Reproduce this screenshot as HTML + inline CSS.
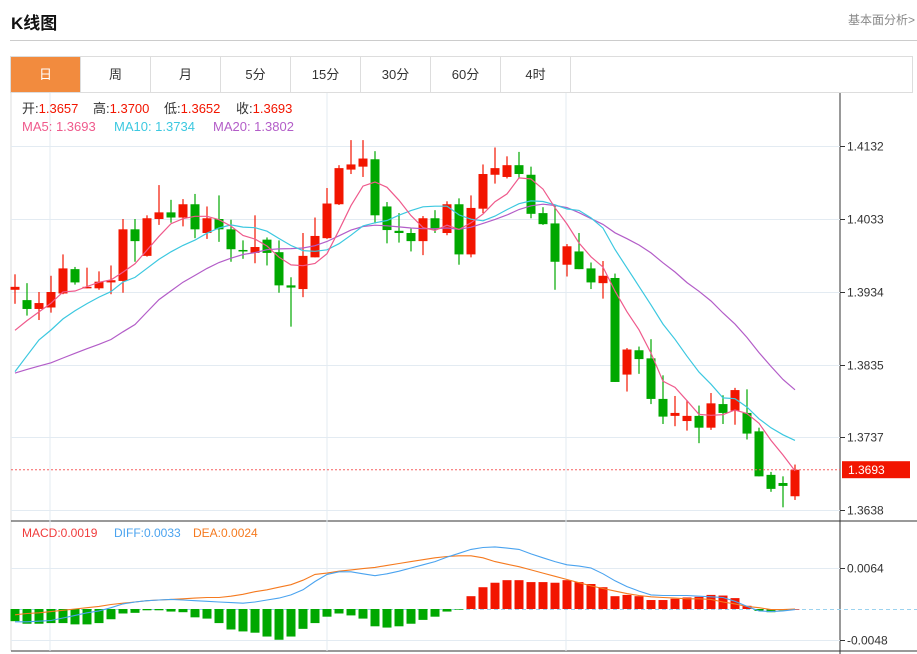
<!DOCTYPE html>
<html><head><meta charset="utf-8">
<style>
body{margin:0;width:917px;height:654px;background:#fff;font-family:"Liberation Sans","Noto Sans CJK SC",sans-serif;overflow:hidden;position:relative}
#title{position:absolute;left:11px;top:9px;font-size:17px;font-weight:bold;color:#111}
#fund{position:absolute;right:2px;top:11px;font-size:12px;color:#888}
#hr{position:absolute;left:10px;right:0;top:40px;border-top:1px solid #ccc}
#tabs{position:absolute;left:10px;top:56px;width:901px;height:35px;border:1px solid #ddd;display:flex}
.tab{width:69px;border-right:1px solid #ddd;text-align:center;line-height:35px;font-size:13px;color:#333}
.tab.on{background:#f28b3e;color:#fff}
svg{position:absolute;left:0;top:0}
</style></head><body>
<div id="title">K线图</div>
<div id="fund">基本面分析&gt;</div>
<div id="hr"></div>
<div id="tabs">
<div class="tab on">日</div>
<div class="tab">周</div>
<div class="tab">月</div>
<div class="tab">5分</div>
<div class="tab">15分</div>
<div class="tab">30分</div>
<div class="tab">60分</div>
<div class="tab">4时</div>
</div>
<svg id="chart" width="917" height="654"></svg>
<script>
const opens=[1.3937,1.3923,1.3911,1.3913,1.3932,1.3965,1.3939,1.3939,1.3947,1.3949,1.4019,1.3983,1.4033,1.4042,1.4035,1.4053,1.4014,1.4033,1.4019,1.3991,1.3987,1.4005,1.3988,1.3943,1.3938,1.3981,1.4007,1.4053,1.4100,1.4104,1.4114,1.4050,1.4017,1.4014,1.4003,1.4034,1.4014,1.4053,1.3985,1.4047,1.4093,1.4090,1.4106,1.4093,1.4041,1.4027,1.3971,1.3989,1.3966,1.3946,1.3953,1.3822,1.3855,1.3844,1.3789,1.3766,1.3759,1.3766,1.3750,1.3782,1.3773,1.3770,1.3745,1.3686,1.3675,1.3657];
const highs=[1.3958,1.3946,1.3934,1.3956,1.3985,1.3968,1.3967,1.3962,1.3970,1.4033,1.4033,1.4038,1.4079,1.4059,1.4060,1.4067,1.4050,1.4065,1.4032,1.4004,1.4038,1.4008,1.4004,1.3954,1.4014,1.4035,1.4075,1.4106,1.4140,1.4140,1.4125,1.4056,1.4041,1.4020,1.4037,1.4045,1.4057,1.4061,1.4065,1.4107,1.4130,1.4118,1.4124,1.4104,1.4049,1.4052,1.3999,1.4014,1.3974,1.3976,1.3959,1.3858,1.3860,1.3870,1.3821,1.3793,1.3787,1.3780,1.3797,1.3794,1.3804,1.3802,1.3750,1.3690,1.3684,1.3700];
const lows=[1.3918,1.3902,1.3896,1.3906,1.3931,1.3944,1.3939,1.3937,1.3931,1.3933,1.3975,1.3982,1.4025,1.4028,1.4023,1.4007,1.4006,1.4002,1.3975,1.3979,1.3973,1.3970,1.3933,1.3887,1.3927,1.3981,1.4006,1.4052,1.4094,1.4090,1.4027,1.4000,1.4001,1.3989,1.3984,1.4014,1.4011,1.3971,1.3981,1.4041,1.4081,1.4088,1.4088,1.4034,1.4025,1.3937,1.3955,1.3965,1.3938,1.3925,1.3812,1.3799,1.3823,1.3782,1.3755,1.3752,1.3746,1.3729,1.3747,1.3755,1.3754,1.3734,1.3684,1.3663,1.3642,1.3652];
const closes=[1.3941,1.3911,1.3919,1.3934,1.3966,1.3947,1.3941,1.3948,1.3950,1.4019,1.4003,1.4034,1.4042,1.4035,1.4053,1.4019,1.4034,1.4019,1.3992,1.3989,1.3995,1.3987,1.3943,1.3940,1.3983,1.4010,1.4054,1.4102,1.4107,1.4115,1.4038,1.4018,1.4014,1.4003,1.4034,1.4019,1.4053,1.3985,1.4048,1.4094,1.4102,1.4106,1.4094,1.4040,1.4026,1.3975,1.3996,1.3965,1.3947,1.3956,1.3812,1.3856,1.3843,1.3789,1.3765,1.3770,1.3766,1.3750,1.3783,1.3770,1.3801,1.3742,1.3684,1.3667,1.3671,1.3693];
const priorCloses=[1.3810,1.3830,1.3845,1.3835,1.3820,1.3815,1.3830,1.3820,1.3810,1.3805,1.3695,1.3705,1.3800,1.3815,1.3835,1.3845,1.3860,1.3875,1.3889];
const priceTicks=["1.4132","1.4033","1.3934","1.3835","1.3737","1.3638"];
const macdHist=[-0.0019,-0.0023,-0.0023,-0.0022,-0.0022,-0.0024,-0.0024,-0.0022,-0.0016,-0.0007,-0.0006,-0.0002,-0.0002,-0.0004,-0.0005,-0.0013,-0.0015,-0.0022,-0.0032,-0.0035,-0.0037,-0.0043,-0.0048,-0.0043,-0.0031,-0.0022,-0.0012,-0.0007,-0.0010,-0.0015,-0.0027,-0.0029,-0.0027,-0.0023,-0.0017,-0.0012,-0.0004,-0.0001,0.0020,0.0034,0.0041,0.0045,0.0045,0.0042,0.0042,0.0041,0.0045,0.0042,0.0039,0.0034,0.0020,0.0022,0.0020,0.0014,0.0014,0.0016,0.0018,0.0019,0.0022,0.0021,0.0017,0.0005,-0.0003,-0.0005,-0.0002,0.0000];
const diffVals=[-0.0020,-0.0020,-0.0019,-0.0018,-0.0014,-0.0010,-0.0006,-0.0003,0.0002,0.0008,0.0011,0.0013,0.0014,0.0015,0.0014,0.0013,0.0012,0.0011,0.0010,0.0009,0.0011,0.0014,0.0017,0.0022,0.0030,0.0043,0.0054,0.0058,0.0058,0.0055,0.0052,0.0055,0.0059,0.0064,0.0069,0.0074,0.0081,0.0087,0.0093,0.0096,0.0097,0.0095,0.0093,0.0086,0.0080,0.0074,0.0069,0.0067,0.0064,0.0055,0.0044,0.0035,0.0028,0.0022,0.0021,0.0021,0.0021,0.0020,0.0019,0.0018,0.0012,0.0004,-0.0003,-0.0004,-0.0003,-0.0001];
const deaVals=[-0.0009,-0.0007,-0.0006,-0.0004,-0.0002,0.0000,0.0002,0.0004,0.0007,0.0009,0.0011,0.0013,0.0014,0.0015,0.0016,0.0017,0.0018,0.0018,0.0020,0.0023,0.0027,0.0030,0.0034,0.0038,0.0045,0.0054,0.0056,0.0059,0.0061,0.0063,0.0065,0.0068,0.0071,0.0074,0.0077,0.0080,0.0082,0.0083,0.0083,0.0080,0.0074,0.0070,0.0066,0.0061,0.0056,0.0051,0.0046,0.0041,0.0036,0.0032,0.0028,0.0024,0.0021,0.0019,0.0018,0.0017,0.0016,0.0016,0.0015,0.0011,0.0008,0.0004,0.0002,-0.0001,-0.0001,0.0000];
const macdTicks=["0.0064","-0.0048"];

const NS="http://www.w3.org/2000/svg";
const svg=document.getElementById('chart');
function mk(tag,attrs,parent){const e=document.createElementNS(NS,tag);for(const k in attrs)e.setAttribute(k,attrs[k]);(parent||svg).appendChild(e);return e;}
const xAt=i=>15+12*i;
const yP=p=>146+(1.4132-p)/0.0099*73;
const yM=v=>609-v/0.0001561;
const RED="#f21500",GREEN="#00a800";

let g=mk('g',{});


mk('line',{x1:11,y1:92,x2:11,y2:651,stroke:'#ddd'},g);
mk('line',{x1:840,y1:93,x2:840,y2:654,stroke:'#333'},g);
mk('line',{x1:11,y1:521,x2:917,y2:521,stroke:'#333'},g);
mk('line',{x1:11,y1:651,x2:917,y2:651,stroke:'#333'},g);
[50,327,566].forEach(x=>mk('line',{x1:x,y1:93,x2:x,y2:651,stroke:'#e3ebf2'},g));

priceTicks.forEach(t=>{const y=Math.round(yP(parseFloat(t)))+0.5;
 mk('line',{x1:11,y1:y,x2:840,y2:y,stroke:'#e3ebf2'},g);
 mk('line',{x1:840,y1:y,x2:845,y2:y,stroke:'#333'},g);
 const tx=mk('text',{x:847,y:y+4,'font-size':12,fill:'#333'});
 
 
 tx.textContent=t;});
macdTicks.forEach(t=>{const y=Math.round(yM(parseFloat(t)))+0.5;
 mk('line',{x1:11,y1:y,x2:840,y2:y,stroke:'#e3ebf2'},g);
 mk('line',{x1:840,y1:y,x2:845,y2:y,stroke:'#333'},g);
 const tx=mk('text',{x:847,y:y+4,'font-size':12,fill:'#333'});
 
 
 tx.textContent=t;});
mk('line',{x1:11,y1:609.5,x2:917,y2:609.5,stroke:'#9cd3ef','stroke-dasharray':'4,3'},g);

const cg=mk('g',{});


opens.forEach((o,i)=>{const c=closes[i],col=c>=o?RED:GREEN,x=xAt(i);
 mk('line',{x1:x,y1:yP(highs[i]),x2:x,y2:yP(lows[i]),stroke:col,'stroke-width':1.2},cg);
 const top=yP(Math.max(o,c)),bot=yP(Math.min(o,c));
 const r=mk('rect',{x:x-4.5,y:top,width:9,height:Math.max(1.5,bot-top),fill:col},cg);
 
 });

const all=priorCloses.concat(closes);const off=priorCloses.length;
function ma(n,color,name){const pts=[];closes.forEach((c,i)=>{const j=i+off;if(j-n+1<0)return;let s=0;for(let k=j-n+1;k<=j;k++)s+=all[k];pts.push(xAt(i).toFixed(1)+','+yP(s/n).toFixed(1));});
 const p=mk('polyline',{points:pts.join(' '),fill:'none',stroke:color,'stroke-width':1.2});
 
 }
ma(20,'#b35dc8','ma20-line');ma(10,'#3cc8e0','ma10-line');ma(5,'#ef5a8c','ma5-line');

const ly=yP(closes[closes.length-1]);
mk('line',{x1:11,y1:ly,x2:840,y2:ly,stroke:'#f56060','stroke-dasharray':'2,2'});
const lb=mk('rect',{x:842,y:ly-8.5,width:68,height:17,fill:RED});


const lt=mk('text',{x:848,y:ly+4.5,'font-size':12,fill:'#fff'});


lt.textContent=closes[closes.length-1].toFixed(4);

const mg=mk('g',{});


macdHist.forEach((v,i)=>{const y0=yM(0),y1=yM(v);
 const r=mk('rect',{x:xAt(i)-4.5,y:Math.min(y0,y1),width:9,height:Math.max(0.5,Math.abs(y1-y0)),fill:v>=0?RED:GREEN},mg);
 
 });
function line(arr,color,name){const p=mk('polyline',{points:arr.map((v,i)=>xAt(i)+','+yM(v).toFixed(1)).join(' '),fill:'none',stroke:color,'stroke-width':1.1});
 
 }
line(deaVals,'#f57a1f','dea-line');line(diffVals,'#4aa3ef','diff-line');

function txt(x,y,s,col,size,name){const t=mk('text',{x:x,y:y,'font-size':size,fill:col});t.textContent=s;return t;}
const L=[["开:","1.3657",22],["高:","1.3700",93],["低:","1.3652",164],["收:","1.3693",236]];
L.forEach(a=>{const t=mk('text',{x:a[2],y:113,'font-size':13});
 const s1=mk('tspan',{fill:'#333'},t);s1.textContent=a[0];const s2=mk('tspan',{fill:RED},t);s2.textContent=a[1];});
txt(22,131,'MA5: 1.3693','#ef5a8c',13,'ma5-legend');
txt(114,131,'MA10: 1.3734','#3cc8e0',13,'ma10-legend');
txt(213,131,'MA20: 1.3802','#b35dc8',13,'ma20-legend');
txt(22,537,'MACD:0.0019','#f03c3c',12,'macd-legend');
txt(114,537,'DIFF:0.0033','#4aa3ef',12,'diff-legend');
txt(193,537,'DEA:0.0024','#f57a1f',12,'dea-legend');
</script>
</body></html>
